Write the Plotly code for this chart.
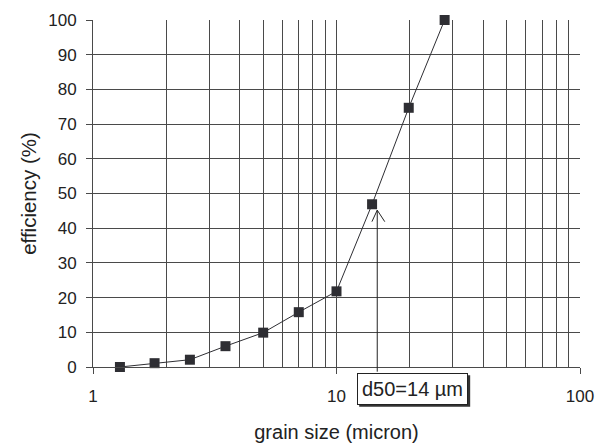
import math
import plotly.graph_objects as go

grain_size = [1.29, 1.79, 2.5, 3.5, 5.0, 7.0, 10.0, 14.0, 19.8, 27.8]
efficiency = [0, 1.1, 2.1, 6.0, 9.9, 15.8, 21.8, 46.9, 74.7, 100]
x_major = [1, 10, 100]
x_major_text = ["1", "10", "100"]
x_minor = [2, 3, 4, 5, 6, 7, 8, 9, 20, 30, 40, 50, 60, 70, 80, 90]
y_ticks = list(range(0, 101, 10))
d50_label = "d50=14 \u00b5m"
d50_arrow_x = 14.7
d50_arrow_y = 45.2

FONT = "Liberation Sans, Arial, sans-serif"
GRID = "#4a4a4a"
DARK = "#2e2e33"

fig = go.Figure()
fig.add_trace(go.Scatter(
    x=grain_size, y=efficiency, mode="lines+markers",
    line=dict(color=DARK, width=1),
    marker=dict(symbol="square", size=10, color=DARK, line=dict(width=0)),
    cliponaxis=False, showlegend=False,
))

fig.update_layout(
    width=596, height=435,
    margin=dict(l=85, r=24, t=12, b=76, autoexpand=False),
    paper_bgcolor="white", plot_bgcolor="white",
    font=dict(family=FONT, size=17, color="#222"),
    xaxis=dict(
        type="log", range=[0, 2], automargin=False,
        tickvals=x_major, ticktext=x_major_text,
        ticks="outside", ticklen=6, tickcolor=GRID,
        showgrid=True, gridcolor=GRID, gridwidth=1,
        showline=True, linecolor=GRID, linewidth=1,
        zeroline=False,
        minor=dict(tickvals=x_minor, showgrid=True, gridcolor=GRID, gridwidth=1, ticks=""),
        ticklabelstandoff=8,
        tickfont=dict(size=17),
        title=dict(text="grain size (micron)", font=dict(size=20), standoff=23),
    ),
    yaxis=dict(
        range=[0, 100], tickvals=y_ticks, automargin=False,
        ticks="outside", ticklen=6, tickcolor=GRID,
        showgrid=True, gridcolor=GRID, gridwidth=1,
        showline=True, linecolor=GRID, linewidth=1,
        zeroline=False,
        ticklabelstandoff=6,
        tickfont=dict(size=17),
        title=dict(text="efficiency (%)", font=dict(size=20.5), standoff=6),
    ),
)

# drop shadow behind the label box
fig.add_shape(
    type="rect", xref="paper", yref="paper",
    x0=0.5466, x1=0.7745, y0=-0.1147, y1=-0.0236,
    fillcolor="#333", line=dict(width=0), layer="above",
)
fig.add_annotation(
    x=0.6556, y=-0.0628, xref="paper", yref="paper", xanchor="center", yanchor="middle",
    text=d50_label, showarrow=False, font=dict(size=20, color="#222"),
    width=105, height=26,
    bgcolor="white", bordercolor="#222", borderwidth=1, borderpad=2,
)
# d50 arrow: shaft and two open head arms
for ax_off, ay_off in [(0, 163), (-6, 13), (8.5, 13)]:
    fig.add_annotation(
        x=math.log10(d50_arrow_x), y=d50_arrow_y, xref="x", yref="y",
        text="", showarrow=True, arrowhead=0, arrowwidth=1,
        arrowcolor="#222", ax=ax_off, ay=ay_off,
    )

fig.write_html("out.html")
